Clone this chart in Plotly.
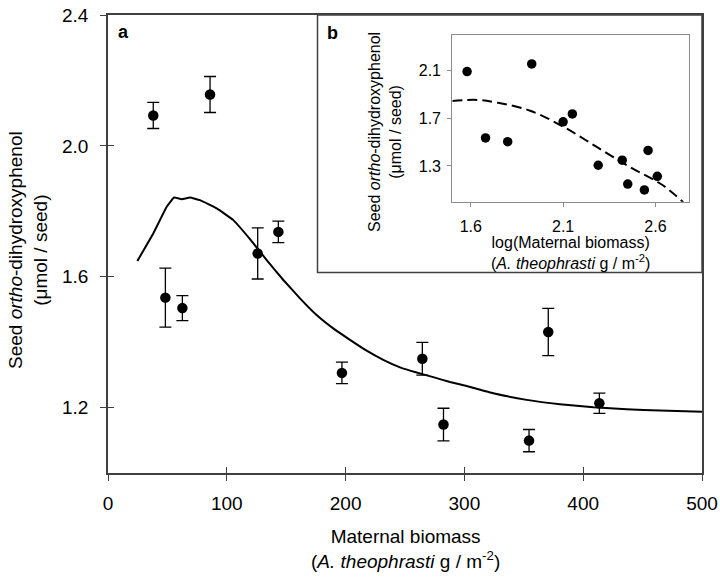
import plotly.graph_objects as go

# main panel (a): seed phenol vs maternal biomass
biomass = [38.1, 48.3, 62.6, 85.9, 126.0, 143.4, 196.9, 264.6, 282.4, 354.4, 370.6, 413.6]
phenol = [2.093, 1.536, 1.504, 2.157, 1.671, 1.737, 1.306, 1.349, 1.148, 1.099, 1.431, 1.213]
phenol_se = [0.040, 0.090, 0.038, 0.055, 0.078, 0.033, 0.033, 0.050, 0.050, 0.034, 0.072, 0.031]

fit_x = [24.7, 38.1, 49.4, 55.6, 62.0, 69.0, 77.4, 91.5, 105.5, 119.5, 133.6, 147.6, 161.6,
         175.6, 189.6, 203.7, 217.7, 231.7, 245.8, 259.8, 273.8, 287.9, 301.9, 324.3, 352.4,
         380.4, 408.5, 436.6, 464.6, 500.0]
fit_y = [1.648, 1.732, 1.814, 1.842, 1.837, 1.842, 1.834, 1.809, 1.773, 1.715, 1.651, 1.590, 1.534,
         1.483, 1.442, 1.407, 1.374, 1.346, 1.323, 1.307, 1.293, 1.278, 1.266, 1.244, 1.2235,
         1.210, 1.201, 1.195, 1.191, 1.187]

# inset (b): same data against log biomass
log_biomass = [1.58, 1.68, 1.80, 1.93, 2.10, 2.15, 2.29, 2.42, 2.45, 2.54, 2.56, 2.61]
log_fit_x = [1.50, 1.634, 1.742, 1.922, 2.102, 2.282, 2.462, 2.642, 2.75]
log_fit_y = [1.846, 1.855, 1.832, 1.764, 1.629, 1.460, 1.291, 1.136, 0.995]

main_xticks = [0, 100, 200, 300, 400, 500]
main_yticks = [1.2, 1.6, 2.0, 2.4]
inset_xticks = [1.6, 2.1, 2.6]
inset_yticks = [1.3, 1.7, 2.1]

FONT = "Liberation Sans, Arial, sans-serif"
AX = "#404040"
INSET_AX = "#8c8c8c"

fig = go.Figure()
fig.add_trace(go.Scatter(x=fit_x, y=fit_y, mode="lines",
                         line=dict(color="black", width=2, shape="spline", smoothing=0.3),
                         showlegend=False, hoverinfo="skip"))
fig.add_trace(go.Scatter(x=biomass, y=phenol, mode="markers",
                         marker=dict(color="black", size=10.5),
                         error_y=dict(type="data", array=phenol_se, color="black", thickness=1.3, width=6),
                         showlegend=False))
# invisible helper trace so the overlay axes (inward half of the crossing ticks) get drawn
fig.add_trace(go.Scatter(x=biomass[:1], y=phenol[:1], mode="markers", marker=dict(opacity=0),
                         xaxis="x3", yaxis="y3", showlegend=False, hoverinfo="skip"))

fig.add_trace(go.Scatter(x=log_fit_x, y=log_fit_y, mode="lines", xaxis="x2", yaxis="y2",
                         line=dict(color="black", width=2, dash="10px,5px", shape="spline"),
                         showlegend=False, hoverinfo="skip"))
fig.add_trace(go.Scatter(x=log_biomass, y=phenol, mode="markers", xaxis="x2", yaxis="y2",
                         marker=dict(color="black", size=9.5), showlegend=False))

W, H = 720, 577
L, R, T, B = 108, 18, 15, 104
pw, ph = W - L - R, H - T - B


def px(x):
    return (x - L) / pw


def py(y):
    return (H - B - y) / ph


fig.update_layout(
    width=W, height=H,
    margin=dict(l=L, r=R, t=T, b=B, autoexpand=False),
    paper_bgcolor="white", plot_bgcolor="white",
    font=dict(family=FONT, color="black"),
    xaxis=dict(range=[0, 500], tickvals=main_xticks, ticks="outside", ticklen=6, tickcolor=AX,
               showline=True, linecolor=AX, linewidth=1.5, mirror=True, showgrid=False, zeroline=False,
               tickfont=dict(size=19), ticklabelstandoff=6, automargin=False),
    yaxis=dict(range=[1.0, 2.4], tickvals=main_yticks, tickformat=".1f", ticks="outside", ticklen=6,
               tickcolor=AX, showline=True, linecolor=AX, linewidth=1.5, mirror=True, showgrid=False,
               zeroline=False, tickfont=dict(size=19), ticklabelstandoff=8, automargin=False),
    xaxis3=dict(range=[0, 500], tickvals=main_xticks[1:-1], ticks="inside", ticklen=6, tickcolor=AX,
                overlaying="x", anchor="y3", showticklabels=False, showgrid=False, zeroline=False,
                automargin=False),
    yaxis3=dict(range=[1.0, 2.4], tickvals=main_yticks[:-1], ticks="inside", ticklen=6, tickcolor=AX,
                overlaying="y", anchor="x3", showticklabels=False, showgrid=False, zeroline=False,
                automargin=False),
    xaxis2=dict(domain=[px(452.3), px(688.7)], anchor="y2", range=[1.5, 2.78], tickvals=inset_xticks,
                ticks="outside", ticklen=4, tickcolor=INSET_AX, showline=True, linecolor=INSET_AX,
                linewidth=1.2, mirror=True, showgrid=False, zeroline=False,
                tickfont=dict(size=16), ticklabelstandoff=6, automargin=False),
    yaxis2=dict(domain=[py(201.7), py(35)], anchor="x2", range=[1.0, 2.4], tickvals=inset_yticks,
                ticks="outside", ticklen=4, tickcolor=INSET_AX, showline=True, linecolor=INSET_AX,
                linewidth=1.2, mirror=True, showgrid=False, zeroline=False,
                tickfont=dict(size=16), ticklabelstandoff=3, automargin=False),
    shapes=[dict(type="rect", xref="paper", yref="paper", x0=px(317.5), x1=1.0, y0=py(272.5), y1=1.0,
                 line=dict(color=AX, width=1.5), fillcolor="white", layer="below")],
)

ann = [
    dict(text="<b>a</b>", x=px(123), y=py(32), size=18, angle=0),
    dict(text="<b>b</b>", x=px(332), y=py(33), size=18, angle=0),
    dict(text="Seed <i>ortho</i>-dihydroxyphenol<br>(μmol / seed)", x=px(28), y=py(250), size=19, angle=-90),
    dict(text="Maternal biomass<br>(<i>A. theophrasti</i> g / m<sup>-2</sup>)", x=px(405), y=py(549), size=19, angle=0),
    dict(text="Seed <i>ortho</i>-dihydroxyphenol<br>(μmol / seed)", x=px(384.5), y=py(132.5), size=16, angle=-90),
    dict(text="log(Maternal biomass)<br>(<i>A. theophrasti</i> g / m<sup>-2</sup>)", x=px(570), y=py(253), size=16, angle=0),
]
for a in ann:
    fig.add_annotation(text=a["text"], x=a["x"], y=a["y"], xref="paper", yref="paper",
                       showarrow=False, textangle=a["angle"], font=dict(size=a["size"], family=FONT),
                       xanchor="center", yanchor="middle")

fig.write_html("out.html", config={"displayModeBar": False},
               post_script="document.body.style.margin='0';document.body.style.overflow='hidden';")
